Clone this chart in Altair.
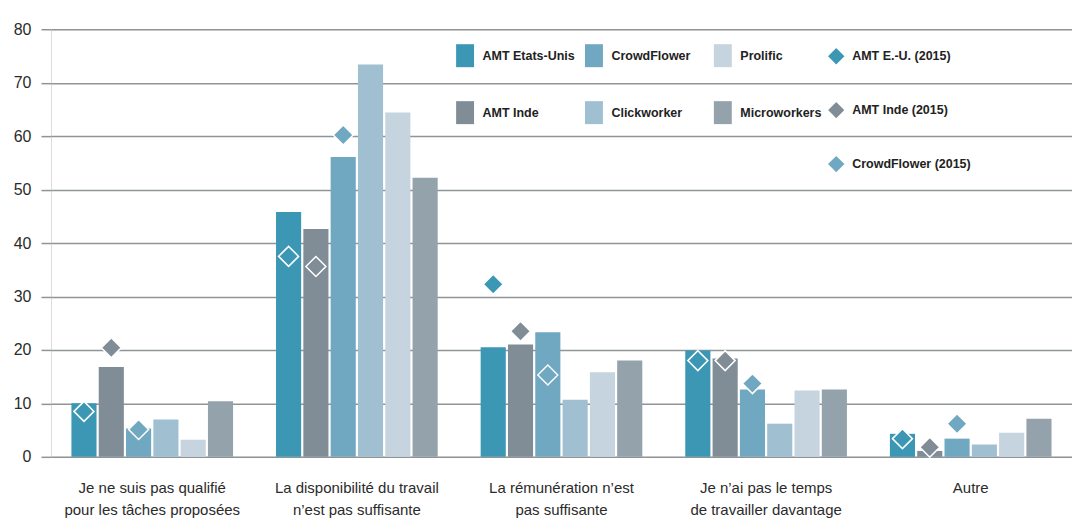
import altair as alt
import pandas as pd

categories = [
    "Je ne suis pas qualifié|pour les tâches proposées",
    "La disponibilité du travail|n’est pas suffisante",
    "La rémunération n’est|pas suffisante",
    "Je n’ai pas le temps|de travailler davantage",
    "Autre",
]

bar_series = ["AMT Etats-Unis", "AMT Inde", "CrowdFlower", "Clickworker", "Prolific", "Microworkers"]
amt_us = [10.0, 45.8, 20.5, 19.9, 4.3]
amt_inde = [16.8, 42.6, 21.0, 18.4, 1.1]
crowdflower = [5.3, 56.1, 23.3, 12.6, 3.4]
clickworker = [7.0, 73.4, 10.7, 6.2, 2.3]
prolific = [3.2, 64.4, 15.8, 12.4, 4.5]
microworkers = [10.4, 52.2, 18.0, 12.6, 7.1]

pt_series = ["AMT E.-U. (2015)", "AMT Inde (2015)", "CrowdFlower (2015)"]
pt_bars = ["AMT Etats-Unis", "AMT Inde", "CrowdFlower"]
amt_us_2015 = [8.5, 37.5, 32.3, 18.0, 3.4]
amt_inde_2015 = [20.4, 35.6, 23.5, 18.0, 1.8]
crowdflower_2015 = [5.1, 60.2, 15.3, 13.7, 6.2]

y_ticks = [0, 10, 20, 30, 40, 50, 60, 70, 80]

colors = {
    "AMT Etats-Unis": "#3b97b3",
    "AMT Inde": "#808d96",
    "CrowdFlower": "#6fa8c0",
    "Clickworker": "#a0c0d1",
    "Prolific": "#c5d4de",
    "Microworkers": "#94a3ab",
}
legend_order = ["AMT Etats-Unis", "CrowdFlower", "Prolific", "AMT Inde", "Clickworker", "Microworkers"]

rows = []
for s, vals in zip(bar_series, [amt_us, amt_inde, crowdflower, clickworker, prolific, microworkers]):
    for c, v in zip(categories, vals):
        rows.append({"cat": c, "bar": s, "value": v})
bars_df = pd.DataFrame(rows)

prows = []
for s, b, vals in zip(pt_series, pt_bars, [amt_us_2015, amt_inde_2015, crowdflower_2015]):
    for c, v in zip(categories, vals):
        prows.append({"cat": c, "bar": b, "serie": s, "value": v})
pts_df = pd.DataFrame(prows)

FONT = "Liberation Sans"
GRID = "#8f9497"

x_enc = alt.X(
    "cat:N",
    sort=categories,
    scale=alt.Scale(paddingInner=0.21, paddingOuter=0.1),
    axis=alt.Axis(
        title=None, domain=False, ticks=False, labelAngle=0, labelPadding=24,
        labelExpr="split(datum.label, '|')", labelFontSize=15, labelColor="#2b2b2b",
        labelFont=FONT, labelLineHeight=22, labelLimit=400,
    ),
)
xoff = alt.XOffset("bar:N", sort=bar_series, scale=alt.Scale(domain=bar_series, paddingInner=0.08))
y_enc = alt.Y(
    "value:Q",
    scale=alt.Scale(domain=[0, 80], nice=False),
    axis=alt.Axis(
        title=None, values=y_ticks, domain=False, tickColor=GRID, tickSize=10, tickWidth=1.5,
        grid=True, gridColor=GRID, gridWidth=1.5, labelPadding=10, labelFontSize=16,
        labelColor="#2b2b2b", labelFont=FONT,
    ),
)

bar_shape = "M-0.78,-1L0.78,-1L0.78,1L-0.78,1Z"

bars = alt.Chart(bars_df).mark_bar().encode(
    x=x_enc,
    xOffset=xoff,
    y=y_enc,
    color=alt.Color(
        "bar:N",
        scale=alt.Scale(domain=legend_order, range=[colors[k] for k in legend_order]),
        legend=alt.Legend(
            title=None, orient="none", legendX=403, legendY=15, columns=3, direction="horizontal",
            symbolType=bar_shape, symbolSize=529, symbolStrokeWidth=0, symbolOpacity=1,
            labelFont=FONT, labelFontSize=12.5, labelFontWeight="bold", labelColor="#222222",
            labelOffset=6, columnPadding=7, rowPadding=34, gridAlign="all", padding=0,
        ),
    ),
)

pts = alt.Chart(pts_df).mark_point(shape="diamond", filled=True, size=400, opacity=1,
                                   stroke="white", strokeWidth=1.5).encode(
    x=alt.X("cat:N", sort=categories),
    xOffset=alt.XOffset("bar:N", sort=bar_series),
    y=alt.Y("value:Q"),
    fill=alt.Fill(
        "serie:N",
        scale=alt.Scale(domain=pt_series, range=[colors[b] for b in pt_bars]),
        legend=alt.Legend(
            title=None, orient="none", legendX=776, legendY=17, direction="vertical",
            symbolType="diamond", symbolSize=340, symbolStrokeColor="white", symbolStrokeWidth=1.5,
            symbolOpacity=1, labelFont=FONT, labelFontSize=12.5, labelFontWeight="bold",
            labelColor="#222222", labelOffset=6, rowPadding=28, padding=0,
        ),
    ),
)

chart = (
    alt.layer(bars, pts)
    .properties(width=1022, height=428, padding={"left": 5, "top": 13, "right": 0, "bottom": 0})
    .configure_view(fill="#e4ecf2", stroke=None)
    .configure(background="white")
)

chart.save("out.html", embed_options={"renderer": "svg", "actions": False})
